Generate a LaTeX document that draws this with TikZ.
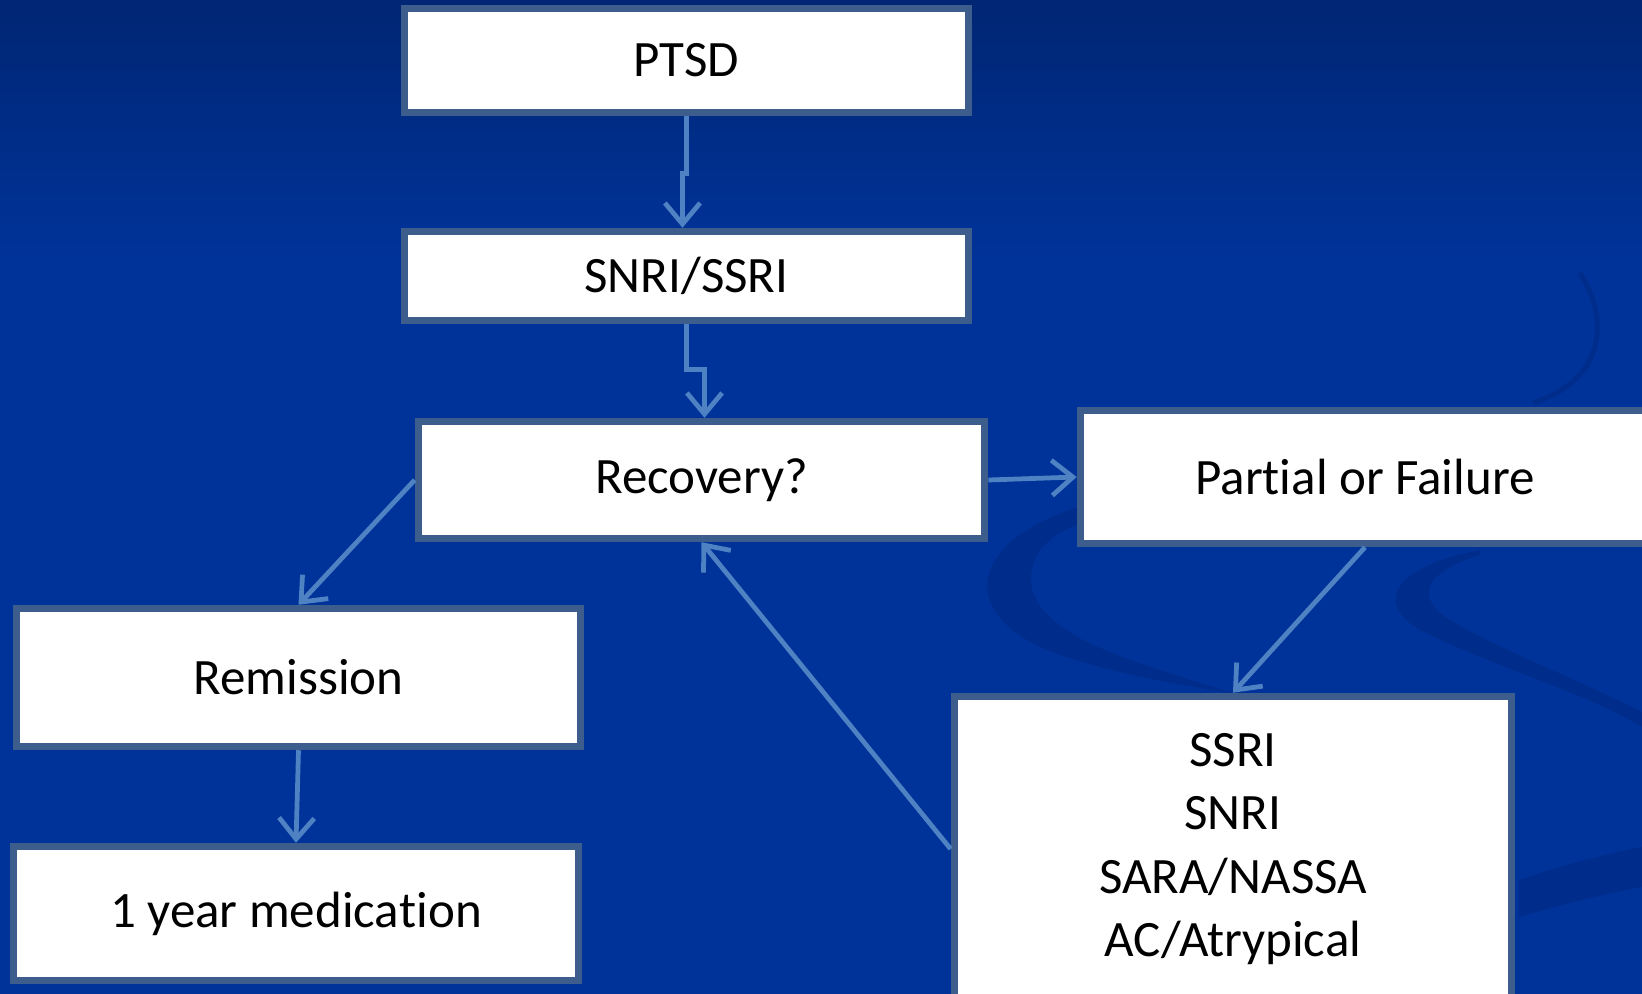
\documentclass[tikz,border=0pt]{standalone}
\usepackage{fontspec}
\setmainfont{Carlito}[RawFeature={-liga;-clig;-calt;-dlig;-rlig}]
\usetikzlibrary{arrows.meta}
\definecolor{bgblue}{HTML}{003399}
\definecolor{bgdark}{HTML}{002674}
\definecolor{swirlblue}{HTML}{002D8C}
\definecolor{boxline}{HTML}{3D5E8C}
\definecolor{arrowblue}{HTML}{4F82C2}

\begin{document}
\begin{tikzpicture}[x=0.01cm, y=-0.01cm,
    stepbox/.style={draw=boxline, line width=2.1pt, fill=white, inner sep=0pt,
      align=center, font=\fontsize{14.5}{18}\selectfont},
    link/.style={draw=arrowblue, line width=1.35pt,
      -{Straight Barb[length=6pt,width=10pt]}},
    swirl/.style={fill=swirlblue}]

    \useasboundingbox (0,0) rectangle (1642,994);
    \clip (0,0) rectangle (1642,994);

    % background
    \fill[bgblue] (0,0) rectangle (1642,994);
    \shade[top color=bgdark, bottom color=bgblue] (0,0) rectangle (1642,260);
    \fill[swirl] (1078,507) .. controls (960,545) and (960,620) .. (1060,655)
        .. controls (1120,675) and (1180,685) .. (1232,693)
        .. controls (1160,670) and (1090,650) .. (1060,625)
        .. controls (1010,590) and (1030,540) .. (1078,525) -- cycle;
    \fill[swirl] (1480,550) .. controls (1400,565) and (1370,600) .. (1420,630)
        .. controls (1500,670) and (1580,690) .. (1642,727)
        -- (1642,712) .. controls (1580,680) and (1500,650) .. (1450,620)
        .. controls (1410,595) and (1430,570) .. (1480,555) -- cycle;
    \fill[swirl] (1519,880) .. controls (1560,866) and (1600,855) .. (1642,847)
        -- (1642,887) .. controls (1600,895) and (1560,905) .. (1519,917) -- cycle;
    \draw[swirlblue, line width=1.5pt] (1580,273) .. controls (1610,320) and (1605,380) .. (1533,403);

    % boxes
    \node[stepbox, minimum width=5.64cm, minimum height=1.04cm] (ptsd) at (686.5,60.5) {PTSD};
    \node[stepbox, minimum width=5.64cm, minimum height=0.89cm] (snri) at (686.5,276) {SNRI/SSRI};
    \node[stepbox, minimum width=5.66cm, minimum height=1.17cm] (rec) at (701.5,480) {Recovery?};
    \node[stepbox, minimum width=5.69cm, minimum height=1.33cm] (part) at (1365,477) {Par\kern0pt tial or Failure};
    \node[stepbox, minimum width=5.64cm, minimum height=1.38cm] (rem) at (298.5,677.5) {Remission};
    \node[stepbox, minimum width=5.65cm, minimum height=1.34cm] (med) at (296,913.5) {1 year medica\kern0pt tion};
    \node[stepbox, minimum width=5.57cm, minimum height=3.05cm] (alt) at (1233,849)
        {SSRI\\SNRI\\SARA/NASSA\\AC/Atrypical};

    % arrows
    \draw[link] (ptsd.south) -- ++(0,57) -| ([xshift=-0.04cm]snri.north);
    \draw[link] (snri.south) -- ++(0,45) -| ([xshift=0.03cm]rec.north);
    \draw[link] (rec.east) -- (part.west);
    \draw[link] (rec.west) -- (rem.north);
    \draw[link] (rem.south) -- (med.north);
    \draw[link] (part.south) -- (alt.north);
    \draw[link] (alt.west) -- (rec.south);
\end{tikzpicture}
\end{document}
